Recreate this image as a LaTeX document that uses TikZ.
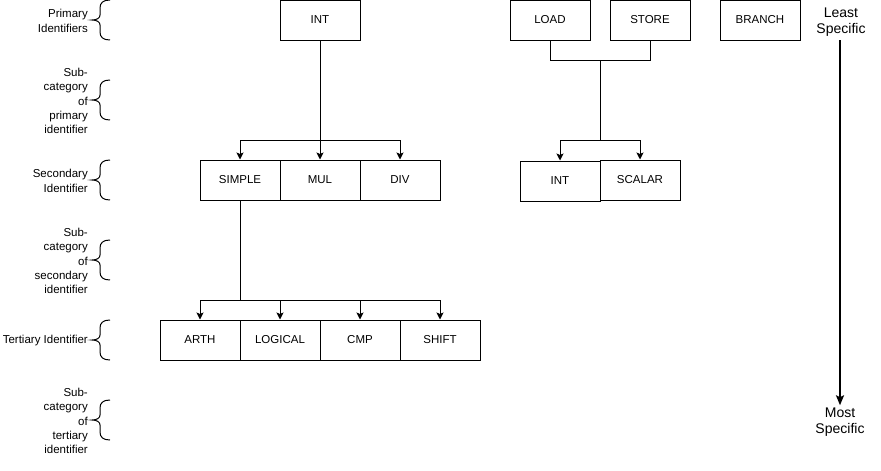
\documentclass[tikz,border=0pt]{standalone}
\usepackage{fontspec}
\setmainfont{Liberation Sans}
\usetikzlibrary{arrows.meta}
\tikzset{
  box/.style={draw, minimum width=80pt, minimum height=40pt, inner sep=0pt, line width=1pt},
  conn/.style={line width=1pt},
  arr/.style={line width=1pt, -{Stealth[length=7pt,width=7pt,inset=1.5pt]}},
  lbl/.style={anchor=east, align=right, inner sep=0pt, font=\fontsize{11.5}{14.4}\selectfont},
  bigtxt/.style={align=center, inner sep=2pt, font=\fontsize{14}{16.5}\selectfont},
  curlybrace/.pic={\draw[line width=1pt] (10,-20) .. controls (3,-20) and (0,-17) .. (0,-12) -- (0,-5) .. controls (0,-2) and (-3,0) .. (-8,0) .. controls (-3,0) and (0,2) .. (0,5) -- (0,12) .. controls (0,17) and (3,20) .. (10,20);}
}
\begin{document}
\begin{tikzpicture}[x=1pt,y=-1pt, font=\fontsize{11.5}{14}\selectfont]
\path[use as bounding box] (0,0) rectangle (881,471);
% left labels and braces
\node[lbl] (l1) at (88,21) {Primary\\Identifiers};
\node[lbl] (l2) at (88,101) {Sub-\\category\\of\\primary\\identifier};
\node[lbl] (l3) at (88,181) {Secondary\\Identifier};
\node[lbl] (l4) at (88,261) {Sub-\\category\\of\\secondary\\identifier};
\node[lbl] (l5) at (88,340.5) {Tertiary Identifier};
\node[lbl] (l6) at (88,421) {Sub-\\category\\of\\tertiary\\identifier};
\pic at (100,20) {curlybrace};
\pic at (100,100) {curlybrace};
\pic at (100,180) {curlybrace};
\pic at (100,260) {curlybrace};
\pic at (100,340) {curlybrace};
\pic at (100,420) {curlybrace};
% boxes
\node[box] (int) at (320,20) {INT};
\node[box] (load) at (550,20) {LOAD};
\node[box] (store) at (650,20) {STORE};
\node[box] (branch) at (760,20) {BRANCH};
\node[box] (simple) at (240,180) {SIMPLE};
\node[box] (mul) at (320,180) {MUL};
\node[box] (div) at (400,180) {DIV};
\node[box] (int2) at (560,181) {INT};
\node[box] (scalar) at (640,180) {SCALAR};
\node[box] (arth) at (200,340) {ARTH};
\node[box] (logical) at (280,340) {LOGICAL};
\node[box] (cmp) at (360,340) {CMP};
\node[box] (shift) at (440,340) {SHIFT};
% connectors
\coordinate (j1) at (320,140);
\draw[conn] (int.south) -- (j1);
\draw[arr] (j1) -| (simple.north);
\draw[arr] (j1) -- (mul.north);
\draw[arr] (j1) -| (div.north);
\coordinate (j2) at (600,60);
\coordinate (j3) at (600,140);
\draw[conn] (load.south) |- (j2);
\draw[conn] (store.south) |- (j2);
\draw[conn] (j2) -- (j3);
\draw[arr] (j3) -| (int2.north);
\draw[arr] (j3) -| (scalar.north);
\coordinate (j4) at (240,300);
\draw[conn] (simple.south) -- (j4);
\draw[arr] (j4) -| (arth.north);
\draw[arr] (j4) -| (logical.north);
\draw[arr] (j4) -| (cmp.north);
\draw[arr] (j4) -| (shift.north);
% specificity arrow
\node[bigtxt] (least) at (841,22) {Least\\Specific};
\node[bigtxt] (most) at (840,422) {Most\\Specific};
\coordinate (astart) at (840,40);
\draw[line width=2pt, -{Stealth[length=10pt,width=8pt,inset=2pt]}] (astart) -- (most.north);
\end{tikzpicture}
\end{document}
